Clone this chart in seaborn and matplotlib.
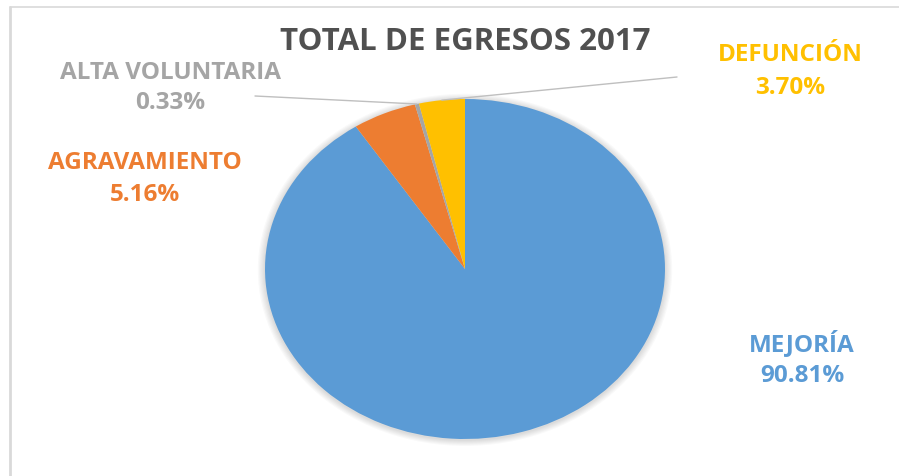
import matplotlib
matplotlib.use("Agg")
import matplotlib.pyplot as plt
from matplotlib.patches import Ellipse
import seaborn as sns
import numpy as np

categories = ["MEJORÍA", "AGRAVAMIENTO", "ALTA VOLUNTARIA", "DEFUNCIÓN"]
values = [90.81, 5.16, 0.33, 3.70]
value_labels = ["90.81%", "5.16%", "0.33%", "3.70%"]
colors = ["#5B9BD5", "#ED7D31", "#A5A5A5", "#FFC000"]
title = "TOTAL DE EGRESOS 2017"

sns.set_theme(style="white")
plt.rcParams["font.family"] = ["Open Sans", "DejaVu Sans"]

W, H = 899, 477
fig = plt.figure(figsize=(W / 100, H / 100), dpi=100)
fig.patch.set_facecolor("white")

def fx(x):
    return x / W

def fy(y):
    return 1 - y / H

# frame lines (top and left)
fig.add_artist(plt.Line2D([fx(10), 1], [fy(8), fy(8)], color="#D9D9D9", lw=1.2))
fig.add_artist(plt.Line2D([fx(10), fx(10)], [fy(8), 0], color="#D9D9D9", lw=2))

cx, cy, rx, ry = 465, 270, 200, 170
ax = fig.add_axes([fx(cx - rx), fy(cy + ry), 2 * rx / W, 2 * ry / H])
# soft shadow around the pie
for k in range(6):
    s = 1 + 0.006 * (k + 1)
    ax.add_patch(Ellipse((0, -0.005), 2 * s, 2 * s * 1.0, facecolor="#000000",
                         alpha=0.025, lw=0, zorder=0))
wedges, _ = ax.pie(values, colors=colors, startangle=90, counterclock=False,
                   wedgeprops=dict(linewidth=0, zorder=2))
ax.set_aspect("auto")
ax.set_xlim(-1.05, 1.05)
ax.set_ylim(-1.05, 1.05)
ax.set_position([fx(cx - rx * 1.05), fy(cy + ry * 1.05), 2 * rx * 1.05 / W, 2 * ry * 1.05 / H])
ax.axis("off")

fig.text(fx(465), fy(42), title, ha="center", va="center", fontsize=22.5,
         fontweight="bold", color="#505050")

label_pos = {
    "MEJORÍA": (802, 344, 376),
    "AGRAVAMIENTO": (145, 163, 195),
    "ALTA VOLUNTARIA": (170, 73, 103),
    "DEFUNCIÓN": (790, 55, 88),
}
for cat, vl, col in zip(categories, value_labels, colors):
    x, y1, y2 = label_pos[cat]
    fig.text(fx(x), fy(y1), cat, ha="center", va="center", fontsize=17.5,
             fontweight="bold", color=col)
    fig.text(fx(x), fy(y2), vl, ha="center", va="center", fontsize=17.5,
             fontweight="bold", color=col)

# leader lines for small slices, ending at wedge mid-angle on the rim
leader_start = {"ALTA VOLUNTARIA": (255, 97), "DEFUNCIÓN": (677, 78)}
for w, cat in zip(wedges, categories):
    if cat in leader_start:
        mid = np.deg2rad((w.theta1 + w.theta2) / 2)
        ex, ey = np.cos(mid), np.sin(mid)
        disp = ax.transData.transform((ex, ey))
        fxy = fig.transFigure.inverted().transform(disp)
        sx, sy = leader_start[cat]
        fig.add_artist(plt.Line2D([fx(sx), fxy[0]], [fy(sy), fxy[1]],
                                  color="#BFBFBF", lw=1))

fig.savefig("out.png", dpi=100, facecolor="white")
